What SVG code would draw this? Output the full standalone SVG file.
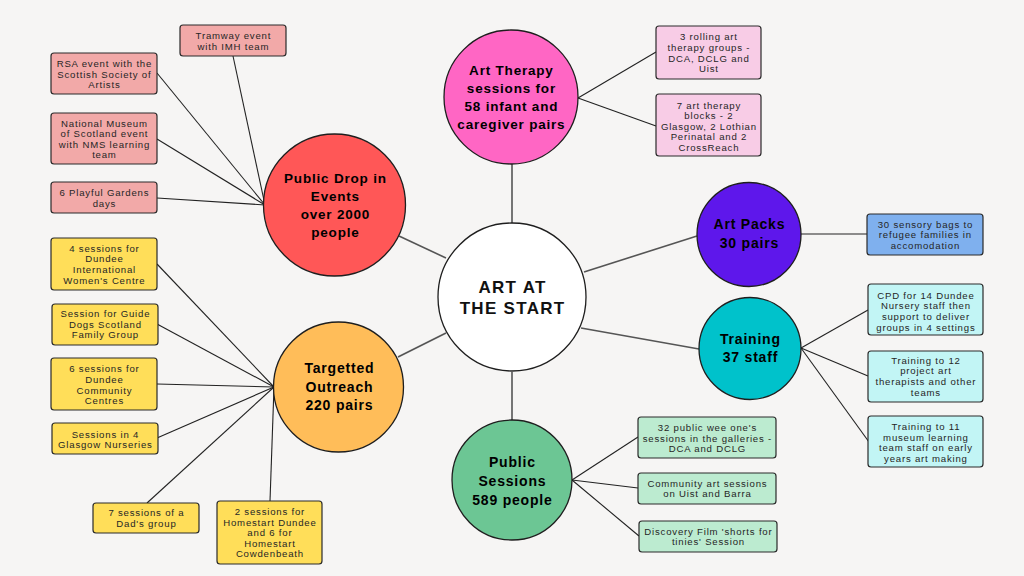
<svg xmlns="http://www.w3.org/2000/svg" width="1024" height="576" viewBox="0 0 1024 576">
<style>
.bg{fill:#f6f5f4}
.c{stroke:#1e1e1e;stroke-width:1.3}
.b{stroke:#2a2a2a;stroke-width:1.2}
.hub{stroke:#555;stroke-width:1.6;fill:none}
.leaf{stroke:#222;stroke-width:1.1;fill:none}
.ct{font-family:"Liberation Sans",Arial,sans-serif;font-weight:bold;font-size:13.5px;letter-spacing:0.8px;fill:#000;text-anchor:middle}
.ct14{font-size:14px}
.mt{font-family:"Liberation Sans",Arial,sans-serif;font-weight:bold;font-size:17px;letter-spacing:1.3px;fill:#111;text-anchor:middle}
.bt{font-family:"Liberation Sans",Arial,sans-serif;font-size:9.6px;letter-spacing:0.8px;fill:#262626;text-anchor:middle}
.red{fill:#f2a9a8}
.yel{fill:#ffde59}
.pnk{fill:#f8cce6}
.blu{fill:#7fb0ee}
.tea{fill:#c2f5f5}
.grn{fill:#bcebd0}
</style>
<rect class="bg" x="0" y="0" width="1024" height="576"/>

<g id="connectors">
<line class="hub" x1="512" y1="164" x2="512" y2="223"/>
<line class="hub" x1="512" y1="372" x2="512" y2="421"/>
<line class="hub" x1="399" y1="236" x2="446" y2="258"/>
<line class="hub" x1="398" y1="357" x2="446" y2="333"/>
<line class="hub" x1="584" y1="272" x2="697" y2="236"/>
<line class="hub" x1="581" y1="328" x2="699" y2="349"/>

<line class="leaf" x1="265" y1="205" x2="233" y2="56"/>
<line class="leaf" x1="265" y1="205" x2="157" y2="73"/>
<line class="leaf" x1="265" y1="205" x2="157" y2="139"/>
<line class="leaf" x1="265" y1="205" x2="157" y2="198"/>

<line class="leaf" x1="274" y1="387" x2="157" y2="264"/>
<line class="leaf" x1="274" y1="387" x2="157" y2="324"/>
<line class="leaf" x1="274" y1="387" x2="157" y2="384"/>
<line class="leaf" x1="274" y1="387" x2="157" y2="438"/>
<line class="leaf" x1="274" y1="387" x2="147" y2="503"/>
<line class="leaf" x1="274" y1="387" x2="270" y2="501"/>

<line class="leaf" x1="578" y1="98" x2="656" y2="52"/>
<line class="leaf" x1="578" y1="98" x2="656" y2="126"/>

<line class="leaf" x1="801" y1="234" x2="867" y2="234"/>

<line class="leaf" x1="801" y1="348" x2="868" y2="310"/>
<line class="leaf" x1="801" y1="348" x2="868" y2="376"/>
<line class="leaf" x1="801" y1="348" x2="869" y2="442"/>

<line class="leaf" x1="572" y1="480" x2="638" y2="437"/>
<line class="leaf" x1="572" y1="480" x2="638" y2="488"/>
<line class="leaf" x1="572" y1="480" x2="639" y2="536"/>
</g>

<g id="center">
<circle class="c" cx="512" cy="297" r="74" fill="#ffffff"/>
<text class="mt" x="512.6" y="293">ART AT</text>
<text class="mt" x="512.6" y="314">THE START</text>
</g>

<g id="art-therapy">
<circle class="c" cx="511" cy="97" r="67" fill="#ff66c4"/>
<text class="ct" x="511.4" y="75">Art Therapy</text>
<text class="ct" x="511.4" y="93">sessions for</text>
<text class="ct" x="511.4" y="111">58 infant and</text>
<text class="ct" x="511.4" y="129">caregiver pairs</text>
</g>

<g id="public-drop-in">
<circle class="c" cx="334.5" cy="205" r="71" fill="#ff5757"/>
<text class="ct" x="335.4" y="182.5">Public Drop in</text>
<text class="ct" x="335.4" y="200.5">Events</text>
<text class="ct" x="335.4" y="218.7">over 2000</text>
<text class="ct" x="335.4" y="236.7">people</text>
</g>

<g id="targetted-outreach">
<circle class="c" cx="338.5" cy="387" r="65" fill="#ffbd59"/>
<text class="ct ct14" x="339.4" y="373.3">Targetted</text>
<text class="ct ct14" x="339.4" y="391.6">Outreach</text>
<text class="ct ct14" x="339.4" y="409.8">220 pairs</text>
</g>

<g id="public-sessions">
<circle class="c" cx="512" cy="480" r="60" fill="#6cc694"/>
<text class="ct ct14" x="512.4" y="467">Public</text>
<text class="ct ct14" x="512.4" y="486">Sessions</text>
<text class="ct ct14" x="512.4" y="504.7">589 people</text>
</g>

<g id="art-packs">
<circle class="c" cx="749" cy="234.5" r="52" fill="#5e17eb"/>
<text class="ct ct14" x="749.4" y="229.3">Art Packs</text>
<text class="ct ct14" x="749.4" y="247.7">30 pairs</text>
</g>

<g id="training">
<circle class="c" cx="750" cy="348.5" r="51" fill="#00c2cb"/>
<text class="ct ct14" x="750.4" y="344.3">Training</text>
<text class="ct ct14" x="750.4" y="361.7">37 staff</text>
</g>

<g id="box-tramway">
<rect class="b red" x="180" y="25" width="106" height="31" rx="3"/>
<text class="bt" x="233.4" y="39.2">Tramway event</text>
<text class="bt" x="233.4" y="49.5">with IMH team</text>
</g>
<g id="box-rsa">
<rect class="b red" x="51" y="53" width="106" height="41" rx="3"/>
<text class="bt" x="104.4" y="67.2">RSA event with the</text>
<text class="bt" x="104.4" y="77.6">Scottish Society of</text>
<text class="bt" x="104.4" y="88.2">Artists</text>
</g>
<g id="box-nms">
<rect class="b red" x="51" y="113" width="106" height="51" rx="3"/>
<text class="bt" x="104.4" y="126.5">National Museum</text>
<text class="bt" x="104.4" y="136.9">of Scotland event</text>
<text class="bt" x="104.4" y="147.5">with NMS learning</text>
<text class="bt" x="104.4" y="158.1">team</text>
</g>
<g id="box-playful">
<rect class="b red" x="51" y="182" width="106" height="31" rx="3"/>
<text class="bt" x="104.4" y="196.2">6 Playful Gardens</text>
<text class="bt" x="104.4" y="206.6">days</text>
</g>

<g id="box-diwc">
<rect class="b yel" x="51" y="238" width="106" height="52" rx="3"/>
<text class="bt" x="104.4" y="251.8">4 sessions for</text>
<text class="bt" x="104.4" y="262.3">Dundee</text>
<text class="bt" x="104.4" y="273">International</text>
<text class="bt" x="104.4" y="283.5">Women's Centre</text>
</g>
<g id="box-guide-dogs">
<rect class="b yel" x="52" y="304" width="106" height="41" rx="3"/>
<text class="bt" x="105.4" y="316.8">Session for Guide</text>
<text class="bt" x="105.4" y="327.5">Dogs Scotland</text>
<text class="bt" x="105.4" y="338.2">Family Group</text>
</g>
<g id="box-community">
<rect class="b yel" x="51" y="358" width="106" height="52" rx="3"/>
<text class="bt" x="104.4" y="372.2">6 sessions for</text>
<text class="bt" x="104.4" y="382.8">Dundee</text>
<text class="bt" x="104.4" y="393.5">Community</text>
<text class="bt" x="104.4" y="404.2">Centres</text>
</g>
<g id="box-nurseries">
<rect class="b yel" x="52" y="423" width="106" height="31" rx="3"/>
<text class="bt" x="105.4" y="437.5">Sessions in 4</text>
<text class="bt" x="105.4" y="448.2">Glasgow Nurseries</text>
</g>
<g id="box-dads">
<rect class="b yel" x="93" y="503" width="106" height="30" rx="3"/>
<text class="bt" x="146.4" y="516.2">7 sessions of a</text>
<text class="bt" x="146.4" y="526.8">Dad's group</text>
</g>
<g id="box-homestart">
<rect class="b yel" x="217" y="501" width="105" height="63" rx="3"/>
<text class="bt" x="269.9" y="515.2">2 sessions for</text>
<text class="bt" x="269.9" y="525.6">Homestart Dundee</text>
<text class="bt" x="269.9" y="536.2">and 6 for</text>
<text class="bt" x="269.9" y="546.8">Homestart</text>
<text class="bt" x="269.9" y="557.2">Cowdenbeath</text>
</g>

<g id="box-rolling">
<rect class="b pnk" x="656" y="26" width="105" height="53" rx="3"/>
<text class="bt" x="708.9" y="40.2">3 rolling art</text>
<text class="bt" x="708.9" y="50.8">therapy groups -</text>
<text class="bt" x="708.9" y="61.5">DCA, DCLG and</text>
<text class="bt" x="708.9" y="71.9">Uist</text>
</g>
<g id="box-blocks">
<rect class="b pnk" x="656" y="94" width="105" height="62" rx="3"/>
<text class="bt" x="708.9" y="108.5">7 art therapy</text>
<text class="bt" x="708.9" y="119.2">blocks - 2</text>
<text class="bt" x="708.9" y="129.8">Glasgow, 2 Lothian</text>
<text class="bt" x="708.9" y="140.3">Perinatal and 2</text>
<text class="bt" x="708.9" y="150.9">CrossReach</text>
</g>

<g id="box-sensory">
<rect class="b blu" x="867" y="214" width="116" height="41" rx="3"/>
<text class="bt" x="925.4" y="227.8">30 sensory bags to</text>
<text class="bt" x="925.4" y="238.3">refugee families in</text>
<text class="bt" x="925.4" y="248.9">accomodation</text>
</g>

<g id="box-cpd">
<rect class="b tea" x="868" y="284" width="115" height="51" rx="3"/>
<text class="bt" x="925.9" y="298.5">CPD for 14 Dundee</text>
<text class="bt" x="925.9" y="309.2">Nursery staff then</text>
<text class="bt" x="925.9" y="319.8">support to deliver</text>
<text class="bt" x="925.9" y="330.5">groups in 4 settings</text>
</g>
<g id="box-training12">
<rect class="b tea" x="868" y="351" width="115" height="51" rx="3"/>
<text class="bt" x="925.9" y="363.5">Training to 12</text>
<text class="bt" x="925.9" y="374.2">project art</text>
<text class="bt" x="925.9" y="384.8">therapists and other</text>
<text class="bt" x="925.9" y="395.5">teams</text>
</g>
<g id="box-training11">
<rect class="b tea" x="868" y="416" width="115" height="51" rx="3"/>
<text class="bt" x="925.9" y="430.2">Training to 11</text>
<text class="bt" x="925.9" y="440.6">museum learning</text>
<text class="bt" x="925.9" y="451.2">team staff on early</text>
<text class="bt" x="925.9" y="461.8">years art making</text>
</g>

<g id="box-wee-ones">
<rect class="b grn" x="638" y="417" width="138" height="41" rx="3"/>
<text class="bt" x="707.4" y="430.8">32 public wee one's</text>
<text class="bt" x="707.4" y="441.5">sessions in the galleries -</text>
<text class="bt" x="707.4" y="451.6">DCA and DCLG</text>
</g>
<g id="box-uist-barra">
<rect class="b grn" x="638" y="473" width="138" height="31" rx="3"/>
<text class="bt" x="707.4" y="486.8">Community art sessions</text>
<text class="bt" x="707.4" y="497.2">on Uist and Barra</text>
</g>
<g id="box-discovery">
<rect class="b grn" x="639" y="521" width="138" height="31" rx="3"/>
<text class="bt" x="708.4" y="534.5">Discovery Film 'shorts for</text>
<text class="bt" x="708.4" y="545.2">tinies' Session</text>
</g>
</svg>
